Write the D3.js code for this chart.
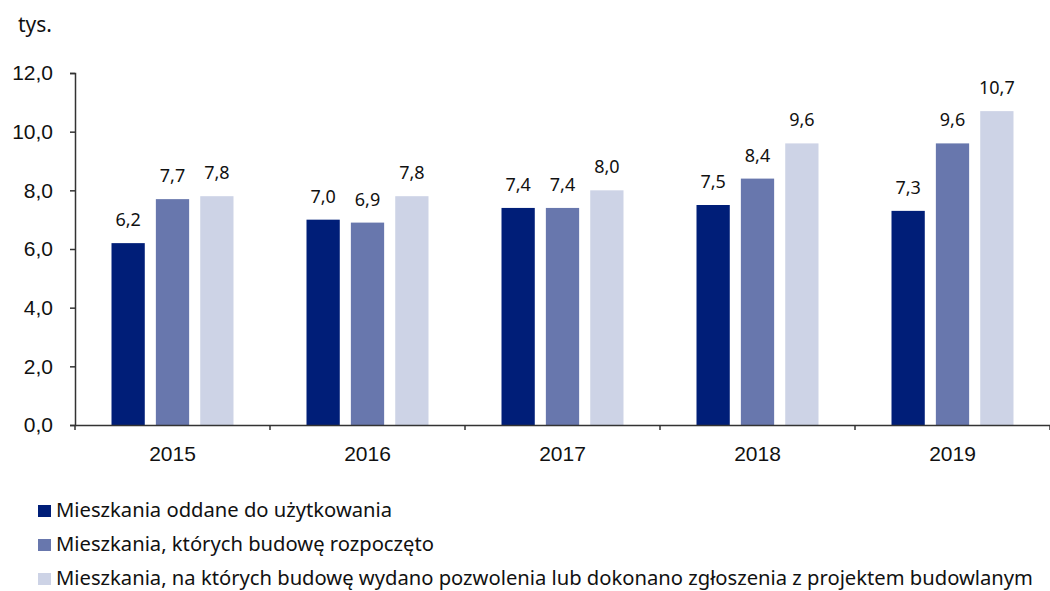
<!DOCTYPE html>
<html>
<head>
<meta charset="utf-8">
<script src="https://cdn.jsdelivr.net/npm/d3@7"></script>
<style>
  body { margin: 0; background: #fff; }
  svg { display: block; font-family: "Noto Sans", sans-serif; }
</style>
</head>
<body>
<svg id="chart" width="1050" height="591"></svg>
<script>
// Years on the x axis
const years = ["2015", "2016", "2017", "2018", "2019"];

// Series (tys. mieszkań)
const oddane = [6.2, 7.0, 7.4, 7.5, 7.3];
const rozpoczete = [7.7, 6.9, 7.4, 8.4, 9.6];
const pozwolenia = [7.8, 7.8, 8.0, 9.6, 10.7];

const seriesNames = [
  "Mieszkania oddane do użytkowania",
  "Mieszkania, których budowę rozpoczęto",
  "Mieszkania, na których budowę wydano pozwolenia lub dokonano zgłoszenia z projektem budowlanym",
];
const colors = ["#001e78", "#6877ad", "#cdd3e6"];

const yTicks = [0, 2, 4, 6, 8, 10, 12];

const series = [oddane, rozpoczete, pozwolenia];

const svg = d3.select("#chart");
const margin = { left: 75, right: 0, top: 73, bottom: 166 };
const width = 1050, height = 591;

const x = d3.scaleBand()
  .domain(years)
  .range([margin.left, width - margin.right])
  .paddingInner(0)
  .paddingOuter(0);

const x1 = d3.scaleBand()
  .domain(d3.range(series.length))
  .range([0, 122])
  .paddingInner(0.25);

const y = d3.scaleLinear()
  .domain([0, 12])
  .range([height - margin.bottom, margin.top]);

const fmt = (v) => d3.format(".1f")(v).replace(".", ",");

// bars
const groups = svg.append("g")
  .selectAll("g")
  .data(years)
  .join("g")
  .attr("transform", (d) => `translate(${x(d) + (x.bandwidth() - 122) / 2},0)`);

groups.selectAll("rect")
  .data((d, i) => series.map((s, k) => ({ k, v: s[i] })))
  .join("rect")
  .attr("x", (d) => x1(d.k))
  .attr("y", (d) => y(d.v))
  .attr("width", x1.bandwidth())
  .attr("height", (d) => y(0) - y(d.v))
  .attr("fill", (d) => colors[d.k]);

groups.selectAll("text")
  .data((d, i) => series.map((s, k) => ({ k, v: s[i] })))
  .join("text")
  .attr("x", (d) => x1(d.k) + x1.bandwidth() / 2)
  .attr("y", (d) => y(d.v) - 17)
  .attr("text-anchor", "middle")
  .attr("font-size", 18)
  .attr("fill", "#111")
  .text((d) => fmt(d.v));

// y axis
const yAxis = svg.append("g")
  .attr("transform", `translate(${margin.left},0)`)
  .call(d3.axisLeft(y).tickValues(yTicks).tickFormat(fmt).tickSize(5).tickPadding(17));
yAxis.select(".domain").attr("stroke", "#333").attr("stroke-width", 1.5);
yAxis.selectAll(".tick line").attr("stroke", "#333").attr("stroke-width", 1.5);
yAxis.selectAll(".tick text").attr("font-size", 21).attr("fill", "#111").attr("font-family", null);

// x axis
const xAxis = svg.append("g")
  .attr("transform", `translate(0,${y(0)})`)
  .call(d3.axisBottom(x).tickSize(0).tickPadding(21));
xAxis.select(".domain").attr("stroke", "#333").attr("stroke-width", 1.5);
xAxis.selectAll(".tick text").attr("font-size", 21).attr("fill", "#111").attr("font-family", null);
// category separators
xAxis.selectAll(".sep")
  .data(years)
  .join("line")
  .attr("class", "sep")
  .attr("x1", (d) => x(d) + x.bandwidth())
  .attr("x2", (d) => x(d) + x.bandwidth())
  .attr("y1", 0)
  .attr("y2", 5)
  .attr("stroke", "#333")
  .attr("stroke-width", 1.5);
xAxis.append("line")
  .attr("x1", margin.left).attr("x2", margin.left)
  .attr("y1", 0).attr("y2", 5)
  .attr("stroke", "#333").attr("stroke-width", 1.5);

// unit label
svg.append("text")
  .attr("x", 18)
  .attr("y", 32)
  .attr("font-size", 21)
  .attr("fill", "#111")
  .text("tys.");

// legend
const legend = svg.append("g")
  .selectAll("g")
  .data(seriesNames)
  .join("g")
  .attr("transform", (d, i) => `translate(38,${517 + i * 34})`);
legend.append("rect")
  .attr("x", 0).attr("y", -12)
  .attr("width", 13).attr("height", 12)
  .attr("fill", (d, i) => colors[i]);
legend.append("text")
  .attr("x", 18)
  .attr("y", 0)
  .attr("font-size", 20.2)
  .attr("fill", "#111")
  .text((d) => d);
</script>
</body>
</html>
